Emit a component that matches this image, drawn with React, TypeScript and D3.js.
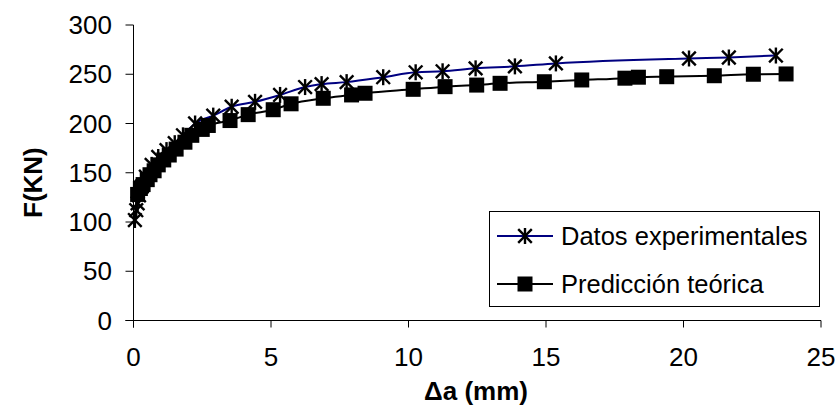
import React from "react";
import * as d3 from "d3";

// Datos experimentales (asteriscos)
const expX = [0.05, 0.1, 0.15, 0.2, 0.3, 0.45, 0.66, 0.9, 1.2, 1.5, 1.8, 2.24, 2.9, 3.57, 4.42, 5.33, 6.24, 6.84, 7.75, 9.08, 10.26, 11.24, 12.44, 13.87, 15.36, 20.2, 21.65, 23.36];
const expY = [102, 112, 119, 127, 136, 146, 158, 166, 173, 180, 188, 200, 208, 217, 222, 229, 237, 240, 242, 247, 252, 253, 256, 258, 261, 266, 267, 269];

// Predicción teórica (cuadrados)
const teoX = [0.15, 0.25, 0.35, 0.5, 0.6, 0.75, 0.9, 1.1, 1.3, 1.55, 1.87, 2.12, 2.5, 2.72, 3.51, 4.17, 5.08, 5.73, 6.9, 7.93, 8.42, 10.17, 11.33, 12.48, 13.33, 14.94, 16.3, 17.87, 18.36, 19.39, 21.12, 22.54, 23.73];
const teoY = [128, 134, 138, 143, 148, 152, 158, 163, 168, 174, 181, 188, 194, 198, 203, 209, 214, 220, 225.6, 229, 230.7, 234.7, 237.4, 239, 240.8, 242.4, 244.2, 246, 247, 247.5, 248.5, 250, 250.3];

const xTicks = [0, 5, 10, 15, 20, 25];
const yTicks = [0, 50, 100, 150, 200, 250, 300];
const seriesNames = ["Datos experimentales", "Predicción teórica"];

const FONT = "'Liberation Sans', Arial, sans-serif";
const FS = 26;

const Star = ({ x, y }: { x: number; y: number }) => {
  const r = 8;
  const d = r * 0.85;
  return (
    <g stroke="#000" strokeWidth={2.4}>
      <line x1={x} y1={y - r} x2={x} y2={y + r} />
      <line x1={x - d} y1={y - d} x2={x + d} y2={y + d} />
      <line x1={x - d} y1={y + d} x2={x + d} y2={y - d} />
    </g>
  );
};

const Square = ({ x, y }: { x: number; y: number }) => (
  <rect x={x - 7.5} y={y - 7.5} width={15} height={15} fill="#000" />
);

export default function App() {
  const x = d3.scaleLinear().domain([0, 25]).range([133.5, 821]);
  const y = d3.scaleLinear().domain([0, 300]).range([320.5, 25]);

  const line = d3
    .line<[number, number]>()
    .x((d) => x(d[0]))
    .y((d) => y(d[1]))
    .curve(d3.curveMonotoneX);

  const expPts = expX.map((v, i) => [v, expY[i]] as [number, number]);
  const teoPts = teoX.map((v, i) => [v, teoY[i]] as [number, number]);

  const x0 = x(0);
  const y0 = y(0);

  return (
    <svg
      width={840}
      height={405}
      style={{ position: "absolute", left: 0, top: 0, background: "#fff" }}
      fontFamily={FONT}
    >
      <rect width={840} height={405} fill="#fff" />

      {/* ejes */}
      <g stroke="#000" strokeWidth={1}>
        <line x1={x0} y1={y(300)} x2={x0} y2={y0 + 7} />
        <line x1={x0 - 8} y1={y0} x2={x(25)} y2={y0} />
        {yTicks.map((t) => (
          <line key={"yt" + t} x1={x0 - 8} x2={x0} y1={y(t)} y2={y(t)} />
        ))}
        {xTicks.map((t) => (
          <line key={"xt" + t} x1={x(t)} x2={x(t)} y1={y0} y2={y0 + 7} />
        ))}
      </g>
      {yTicks.map((t) => (
        <text key={"yl" + t} x={112} y={y(t)} dy="0.35em" textAnchor="end" fontSize={FS}>
          {t}
        </text>
      ))}
      {xTicks.map((t) => (
        <text key={"xl" + t} x={x(t)} y={366} textAnchor="middle" fontSize={FS}>
          {t}
        </text>
      ))}

      <text
        transform={`translate(42,${y(140)}) rotate(-90)`}
        textAnchor="middle"
        fontSize={FS}
        fontWeight="bold"
      >
        F(KN)
      </text>
      <text x={476} y={400} textAnchor="middle" fontSize={FS} fontWeight="bold">
        Δa (mm)
      </text>

      {/* series */}
      <path d={line(teoPts) || ""} fill="none" stroke="#000" strokeWidth={2} />
      <path d={line(expPts) || ""} fill="none" stroke="#000080" strokeWidth={2} />
      {teoPts.map((p, i) => (
        <Square key={"s" + i} x={x(p[0])} y={y(p[1])} />
      ))}
      {expPts.map((p, i) => (
        <Star key={"e" + i} x={x(p[0])} y={y(p[1])} />
      ))}

      {/* leyenda */}
      <rect x={489.5} y={211.5} width={330} height={95} fill="#fff" stroke="#000" strokeWidth={1} />
      <line x1={497} x2={553} y1={236} y2={236} stroke="#000080" strokeWidth={2} />
      <Star x={525} y={236} />
      <text x={561} y={236} dy="0.35em" fontSize={25.5}>
        {seriesNames[0]}
      </text>
      <line x1={497} x2={553} y1={284} y2={284} stroke="#000" strokeWidth={2} />
      <Square x={525} y={284} />
      <text x={561} y={284} dy="0.35em" fontSize={25.5}>
        {seriesNames[1]}
      </text>
    </svg>
  );
}
